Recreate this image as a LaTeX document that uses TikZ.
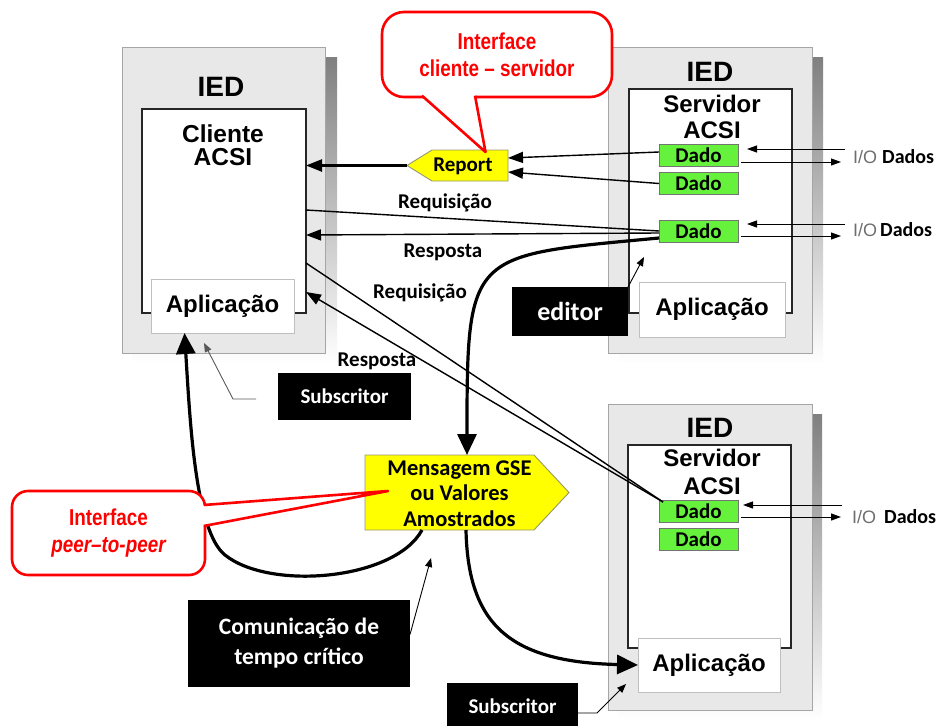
\documentclass[tikz,border=0pt]{standalone}
\usepackage{fontspec}
\setmainfont{Liberation Sans}
\newfontfamily\calfont{Carlito}
\newfontfamily\narrowfont[FakeStretch=0.82]{Liberation Sans}
\usetikzlibrary{arrows.meta,calc}

\definecolor{iedfill}{RGB}{232,232,232}
\definecolor{iedline}{RGB}{165,165,165}
\definecolor{shade}{RGB}{128,128,128}
\definecolor{dadofill}{RGB}{102,242,60}
\definecolor{sigfill}{RGB}{255,255,0}
\definecolor{sigline}{RGB}{150,150,110}
\definecolor{callred}{RGB}{255,0,0}
\definecolor{iogray}{RGB}{110,110,110}

\begin{document}
\begin{tikzpicture}[x=1pt,y=-1pt,
  box/.style={rectangle, inner sep=0pt, outer sep=0pt},
  ied/.style={box, fill=iedfill, draw=iedline, line width=0.8pt},
  innerbox/.style={box, fill=white, draw=black!85, line width=1.3pt},
  app/.style={box, fill=white, draw=black!25, line width=0.8pt, font=\fontsize{24}{26}\selectfont\bfseries},
  dado/.style={box, fill=dadofill, draw=black!55, line width=0.8pt, minimum width=79pt, minimum height=22pt, font=\calfont\fontsize{21}{22}\selectfont\bfseries},
  title/.style={font=\fontsize{28}{30}\selectfont\bfseries},
  head/.style={align=center, inner sep=0pt},
  lbl/.style={inner sep=0pt, font=\calfont\fontsize{21}{22}\selectfont\bfseries},
  blk/.style={box, fill=black, text=white, align=center, font=\calfont\fontsize{21}{30}\selectfont\bfseries},
  callbox/.style={box, draw=callred, line width=2.6pt, fill=white, text=callred, align=center, font=\narrowfont\fontsize{23}{27}\selectfont\bfseries},
  calltail/.style={draw=callred, line width=2.6pt, line join=round},
  sig/.style={fill=sigfill, draw=sigline, line width=0.9pt},
  thinc/.style={line width=1.4pt},
  headed/.style={-{Triangle[length=15pt,width=11pt]}},
  bigc/.style={line width=3.2pt, -{Triangle[length=21pt,width=19pt]}},
  pointer/.style={line width=0.9pt, -{Triangle[length=9pt,width=7pt]}},
  io/.style={line width=1pt, -{Triangle[length=10pt,width=7pt]}},
  iolbl/.style={anchor=west, inner sep=0pt}
]
\useasboundingbox (0,0) rectangle (943,726);

% drop shadows of the three IEDs
\fill[shade] (132,57) rectangle (337,363);
\fill[shade] (618,57) rectangle (823,364);
\fill[shade] (618,414) rectangle (822,720);

% IED frames
\node[ied, minimum width=203pt, minimum height=306pt] (iedL) at (223.5,200) {};
\node[ied, minimum width=204pt, minimum height=306pt] (iedTR) at (710,200) {};
\node[ied, minimum width=204pt, minimum height=306pt] (iedBR) at (710,557) {};

% ACSI client / servers
\node[innerbox, minimum width=164pt, minimum height=204pt] (cliL) at (224,211) {};
\node[innerbox, minimum width=163pt, minimum height=224pt] (srvT) at (710.5,201) {};
\node[innerbox, minimum width=163pt, minimum height=203pt] (srvB) at (709.5,546.5) {};

% application boxes
\node[app, minimum width=143pt, minimum height=54pt] (appL) at (222.5,306) {Aplicação};
\node[app, minimum width=146pt, minimum height=55pt] (appT) at (712,309.5) {Aplicação};
\node[app, minimum width=142pt, minimum height=54pt] (appB) at (709,665) {Aplicação};

% titles
\node[title] at (221,87) {IED};
\node[title] at (710,72) {IED};
\node[title] at (710,428) {IED};
\node[head, font=\fontsize{24.5}{23}\selectfont\bfseries] at (223,145.5) {Cliente\\ACSI};
\node[head, font=\fontsize{24}{26}\selectfont\bfseries] at (712,117) {Servidor\\ACSI};
\node[head, font=\fontsize{24}{28}\selectfont\bfseries] at (712,472) {Servidor\\ACSI};

% data objects
\node[dado] (d1) at (698.5,155) {Dado};
\node[dado] (d2) at (698.5,183.5) {Dado};
\node[dado] (d3) at (698.5,231) {Dado};
\node[dado] (bd1) at (698.5,511) {Dado};
\node[dado] (bd2) at (698.5,539) {Dado};

% process I/O
\node[iolbl] (io1) at (853,157) {{\color{iogray}\fontsize{18}{20}\selectfont I/O}\hspace{5pt}{\calfont\fontsize{20}{20}\selectfont\bfseries Dados}};
\node[iolbl] (io2) at (853,230) {{\color{iogray}\fontsize{18}{20}\selectfont I/O}\hspace{3pt}{\calfont\fontsize{20}{20}\selectfont\bfseries Dados}};
\node[iolbl] (io3) at (852,517) {{\color{iogray}\fontsize{18}{20}\selectfont I/O}\hspace{8pt}{\calfont\fontsize{20}{20}\selectfont\bfseries Dados}};
\draw[io] ([xshift=-8pt,yshift=8pt]io1.west) -- ([xshift=9pt,yshift=6pt]d1.east);
\draw[io] ([xshift=3pt,yshift=-7pt]d1.east) -- ([xshift=-12pt,yshift=-5pt]io1.west);
\draw[io] ([xshift=-8pt,yshift=6pt]io2.west) -- ([xshift=9pt,yshift=7pt]d3.east);
\draw[io] ([xshift=3pt,yshift=-5pt]d3.east) -- ([xshift=-12pt,yshift=-6pt]io2.west);
\draw[io] ([xshift=-10pt,yshift=12pt]io3.west) -- ([xshift=5pt,yshift=6pt]bd1.east);
\draw[io] ([xshift=3pt,yshift=-6pt]bd1.east) -- ([xshift=-11pt]io3.west);

% report message
\node[box, minimum width=101pt, minimum height=31pt] (rep) at (457.5,165.5) {};
\filldraw[sig] (rep.west) -- ([xshift=25pt]rep.north west) -- (rep.north east)
  -- (rep.south east) -- ([xshift=25pt]rep.south west) -- cycle;
\node[lbl] at (463,166) {Report};

% GSE / sampled values message
\node[box, minimum width=204pt, minimum height=75pt] (gse) at (467,492.5) {};
\filldraw[sig] (gse.north west) -- ([xshift=-35pt]gse.north east) -- (gse.east)
  -- ([xshift=-35pt]gse.south east) -- (gse.south west) -- cycle;
\node[lbl, align=center, font=\calfont\fontsize{22.5}{25.5}\selectfont\bfseries] at (459.5,493.5) {Mensagem GSE\\ou Valores\\Amostrados};

% client-server services
\draw[thinc, headed] ([yshift=3pt]d1.west) -- ([yshift=7.5pt]rep.east);
\draw[thinc, headed] (d2.west) -- ([yshift=-6.5pt]rep.east);
\draw[line width=2.4pt, -{Triangle[length=16pt,width=12pt]}] (rep.west) -- (rep.west -| cliL.east);
\draw[thinc] ([yshift=1pt]cliL.east) -- (d3.west);
\draw[thinc, headed] ([yshift=-2pt]d3.west) -- ([yshift=-24pt]cliL.east);
\draw[thinc] ([yshift=-52pt]cliL.east) -- ([xshift=4pt,yshift=-2pt]bd1.north west);
\draw[thinc, headed] ([xshift=4pt,yshift=-2pt]bd1.north west) -- ([yshift=-81pt]cliL.east);

\node[lbl] (req1) at (445,203) {Requisição};
\node[lbl] (res1) at (443,252) {Resposta};
\node[lbl] (req2) at (420,293) {Requisição};
\node[lbl] (res2) at (377,361) {Resposta};

% peer-to-peer (time critical) messages
\draw[bigc] ([yshift=-7pt]d3.west) .. controls +(-190,18) and +(0,-205) .. (gse.north);
\draw[bigc] ([xshift=-45pt]gse.south) .. controls +(-27,50) and +(45,36) .. ++(-197,25)
  .. controls +(-30,-24) and +(5.5,87) .. ([xshift=-38pt]appL.south);
\draw[bigc] ([xshift=-1pt]gse.south) .. controls +(2,95) and +(-128,-3) .. (appB.west);

% black tags
\node[blk, minimum width=116pt, minimum height=49pt, font=\calfont\fontsize{26}{26}\selectfont\bfseries] (edit) at (570,311.5) {editor};
\node[blk, minimum width=133pt, minimum height=47pt] (subL) at (344.5,396.5) {Subscritor};
\node[blk, minimum width=222pt, minimum height=87pt, font=\calfont\fontsize{23.5}{30}\selectfont\bfseries] (com) at (299,643.5) {Comunicação de\\tempo crítico};
\node[blk, minimum width=131pt, minimum height=47pt] (subB) at (512.5,706.5) {Subscritor};

\draw[pointer] (edit.north east) -- ([xshift=5pt,yshift=25pt]appT.north west);
\draw[pointer] ([yshift=9pt]com.east) -- ([xshift=66pt,yshift=-28pt]gse.south west);
\draw[pointer] ([yshift=-6.5pt]subB.east) -- ++(19,0) -- ([xshift=18pt,yshift=26pt]iedBR.south west);
\coordinate (subLtail) at ([xshift=-22pt,yshift=-2.5pt]subL.west);
\draw[pointer, draw=black!65] (subLtail) -- ++(-23,0) -- ([xshift=82pt,yshift=10pt]iedL.south west);

% callouts
\node[callbox, rounded corners=22pt, minimum width=230pt, minimum height=85pt] (cs) at (497,54.5) {Interface\\cliente – servidor};
\coordinate (cstip) at ([xshift=28pt,yshift=-2pt]rep.north);
\fill[white] ([xshift=-75pt,yshift=2.5pt]cs.south) -- (cstip) -- ([xshift=-22pt,yshift=2.5pt]cs.south) -- cycle;
\draw[calltail] ([xshift=-75pt,yshift=1.3pt]cs.south) -- (cstip) -- ([xshift=-22pt,yshift=1.3pt]cs.south);

\node[callbox, rounded corners=16pt, minimum width=193pt, minimum height=84pt] (pp) at (108.5,533) {Interface\\\itshape peer–to-peer};
\coordinate (pptip) at ([xshift=23pt,yshift=1.5pt]gse.west);
\fill[white] ([xshift=-2.5pt,yshift=28pt]pp.east) -- (pptip) -- ([xshift=-2.5pt,yshift=7pt]pp.east) -- cycle;
\draw[calltail] ([xshift=-1.3pt,yshift=28pt]pp.east) -- (pptip) -- ([xshift=-1.3pt,yshift=7pt]pp.east);
\end{tikzpicture}
\end{document}
